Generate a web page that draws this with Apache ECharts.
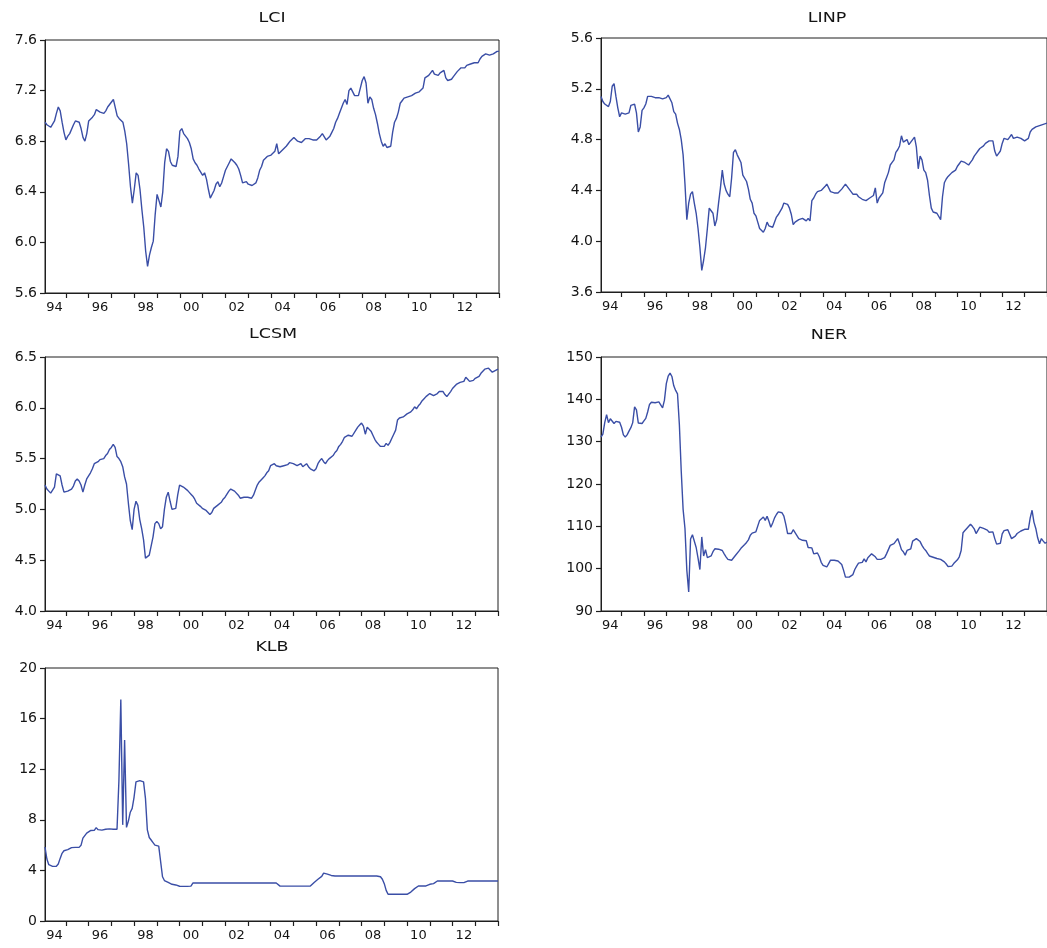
<!DOCTYPE html>
<html>
<head>
<meta charset="utf-8">
<title>LCI, LINP, LCSM, NER, KLB</title>
<script src="https://cdn.jsdelivr.net/npm/echarts@6/dist/echarts.min.js"></script>
<style>
  html, body { margin: 0; padding: 0; background: #ffffff; }
  #chart { width: 1047px; height: 948px; }
</style>
</head>
<body>
<div id="chart"></div>
<script>
// Monthly observations, January 1994 to December 2013 (one row per year).
const START_YEAR = 1994;
const END_YEAR = 2014;
const yearLabels = ['94', '96', '98', '00', '02', '04', '06', '08', '10', '12'];

const LCI = [
  6.95, 6.93, 6.92, 6.91, 6.92, 6.96, 7.02, 7.07, 7.04, 6.95, 6.87, 6.81,
  6.84, 6.86, 6.85, 6.93, 6.96, 6.97, 6.95, 6.90, 6.83, 6.80, 6.86, 6.96,
  6.97, 6.99, 7.01, 7.05, 7.04, 7.03, 7.02, 7.02, 7.04, 7.07, 7.09, 7.09,
  7.13, 7.12, 7.00, 6.98, 6.97, 6.95, 6.88, 6.78, 6.62, 6.44, 6.31, 6.42,
  6.55, 6.53, 6.42, 6.26, 6.12, 5.93, 5.81, 5.90, 5.96, 6.01, 6.22, 6.38,
  6.33, 6.28, 6.40, 6.63, 6.74, 6.72, 6.64, 6.61, 6.60, 6.60, 6.68, 6.88,
  6.90, 6.86, 6.84, 6.82, 6.79, 6.74, 6.66, 6.63, 6.61, 6.58, 6.57, 6.53,
  6.55, 6.50, 6.42, 6.35, 6.34, 6.41, 6.46, 6.48, 6.44, 6.47, 6.52, 6.57,
  6.60, 6.63, 6.66, 6.65, 6.63, 6.61, 6.58, 6.53, 6.47, 6.46, 6.48, 6.46,
  6.45, 6.45, 6.44, 6.47, 6.51, 6.57, 6.60, 6.65, 6.66, 6.68, 6.68, 6.69,
  6.70, 6.72, 6.78, 6.70, 6.71, 6.73, 6.74, 6.76, 6.78, 6.80, 6.81, 6.83,
  6.82, 6.80, 6.79, 6.79, 6.80, 6.82, 6.83, 6.82, 6.82, 6.81, 6.80, 6.81,
  6.82, 6.84, 6.86, 6.85, 6.81, 6.82, 6.84, 6.87, 6.90, 6.95, 6.98, 7.02,
  7.06, 7.10, 7.13, 7.09, 7.20, 7.22, 7.23, 7.16, 7.16, 7.16, 7.22, 7.28,
  7.31, 7.26, 7.10, 7.15, 7.13, 7.06, 7.01, 6.94, 6.86, 6.80, 6.76, 6.78,
  6.75, 6.74, 6.76, 6.87, 6.95, 6.98, 7.03, 7.10, 7.12, 7.14, 7.15, 7.15,
  7.15, 7.16, 7.17, 7.18, 7.18, 7.19, 7.20, 7.22, 7.30, 7.31, 7.32, 7.33,
  7.36, 7.33, 7.32, 7.32, 7.34, 7.35, 7.36, 7.30, 7.28, 7.28, 7.29, 7.31,
  7.33, 7.35, 7.36, 7.38, 7.37, 7.38, 7.40, 7.40, 7.41, 7.41, 7.42, 7.42,
  7.42, 7.45, 7.47, 7.48, 7.49, 7.49, 7.48, 7.48, 7.49, 7.50, 7.51, 7.51
];

const LINP = [
  5.14, 5.10, 5.08, 5.07, 5.06, 5.10, 5.22, 5.24, 5.14, 5.05, 4.98, 5.01,
  5.00, 5.00, 5.00, 5.01, 5.07, 5.08, 5.08, 5.01, 4.86, 4.90, 5.03, 5.05,
  5.08, 5.14, 5.15, 5.14, 5.14, 5.13, 5.14, 5.13, 5.13, 5.12, 5.12, 5.13,
  5.15, 5.16, 5.09, 5.02, 5.00, 4.93, 4.88, 4.80, 4.68, 4.45, 4.17, 4.30,
  4.37, 4.39, 4.30, 4.22, 4.10, 3.95, 3.77, 3.85, 3.95, 4.10, 4.26, 4.24,
  4.22, 4.12, 4.17, 4.30, 4.42, 4.56, 4.45, 4.40, 4.37, 4.35, 4.50, 4.70,
  4.72, 4.68, 4.65, 4.62, 4.52, 4.51, 4.47, 4.41, 4.33, 4.30, 4.22, 4.20,
  4.15, 4.10, 4.09, 4.07, 4.10, 4.15, 4.12, 4.12, 4.11, 4.10, 4.19, 4.21,
  4.21, 4.26, 4.30, 4.30, 4.29, 4.26, 4.21, 4.13, 4.15, 4.16, 4.17, 4.17,
  4.18, 4.17, 4.16, 4.18, 4.16, 4.32, 4.34, 4.37, 4.39, 4.40, 4.40, 4.41,
  4.43, 4.45, 4.46, 4.39, 4.38, 4.38, 4.37, 4.38, 4.39, 4.41, 4.42, 4.45,
  4.44, 4.41, 4.39, 4.37, 4.37, 4.37, 4.35, 4.34, 4.33, 4.33, 4.32, 4.33,
  4.34, 4.35, 4.36, 4.42, 4.30, 4.34, 4.35, 4.38, 4.46, 4.50, 4.54, 4.60,
  4.62, 4.64, 4.70, 4.72, 4.75, 4.83, 4.78, 4.77, 4.80, 4.76, 4.78, 4.80,
  4.82, 4.74, 4.57, 4.67, 4.64, 4.56, 4.54, 4.48, 4.36, 4.26, 4.23, 4.22,
  4.22, 4.21, 4.17, 4.35, 4.46, 4.49, 4.51, 4.51, 4.54, 4.55, 4.56, 4.59,
  4.61, 4.63, 4.64, 4.62, 4.61, 4.60, 4.62, 4.64, 4.67, 4.69, 4.71, 4.73,
  4.74, 4.75, 4.77, 4.78, 4.79, 4.79, 4.79, 4.71, 4.67, 4.69, 4.71, 4.77,
  4.81, 4.80, 4.80, 4.82, 4.84, 4.81, 4.80, 4.82, 4.83, 4.81, 4.80, 4.79,
  4.79, 4.81, 4.86, 4.88, 4.89, 4.90, 4.91, 4.91, 4.92, 4.92, 4.93, 4.93
];

const LCSM = [
  5.24, 5.20, 5.18, 5.16, 5.15, 5.22, 5.35, 5.35, 5.33, 5.24, 5.17, 5.18,
  5.18, 5.19, 5.20, 5.23, 5.28, 5.30, 5.28, 5.24, 5.17, 5.24, 5.30, 5.33,
  5.36, 5.40, 5.45, 5.46, 5.47, 5.49, 5.49, 5.50, 5.53, 5.55, 5.59, 5.61,
  5.64, 5.61, 5.52, 5.50, 5.47, 5.42, 5.32, 5.25, 5.06, 4.89, 4.80, 5.00,
  5.08, 5.04, 4.90, 4.81, 4.70, 4.52, 4.53, 4.55, 4.56, 4.73, 4.86, 4.88,
  4.86, 4.81, 4.83, 5.00, 5.12, 5.17, 5.08, 5.00, 5.00, 5.01, 5.14, 5.24,
  5.23, 5.22, 5.21, 5.19, 5.17, 5.15, 5.13, 5.10, 5.06, 5.05, 5.03, 5.01,
  5.00, 4.99, 4.97, 4.95, 4.97, 5.01, 5.02, 5.04, 5.05, 5.07, 5.10, 5.12,
  5.15, 5.18, 5.20, 5.19, 5.18, 5.17, 5.14, 5.11, 5.11, 5.12, 5.12, 5.12,
  5.11, 5.11, 5.14, 5.19, 5.24, 5.27, 5.29, 5.31, 5.33, 5.36, 5.38, 5.43,
  5.44, 5.45, 5.43, 5.42, 5.42, 5.42, 5.43, 5.43, 5.44, 5.46, 5.47, 5.45,
  5.44, 5.43, 5.44, 5.45, 5.42, 5.43, 5.45, 5.42, 5.40, 5.39, 5.38, 5.40,
  5.45, 5.48, 5.50, 5.47, 5.45, 5.48, 5.50, 5.51, 5.53, 5.56, 5.58, 5.62,
  5.64, 5.67, 5.71, 5.72, 5.73, 5.74, 5.72, 5.71, 5.78, 5.81, 5.83, 5.85,
  5.82, 5.74, 5.81, 5.80, 5.77, 5.73, 5.69, 5.66, 5.64, 5.62, 5.61, 5.62,
  5.65, 5.63, 5.66, 5.70, 5.74, 5.78, 5.88, 5.90, 5.91, 5.91, 5.92, 5.94,
  5.95, 5.96, 5.98, 6.01, 5.99, 6.02, 6.04, 6.07, 6.09, 6.11, 6.12, 6.14,
  6.13, 6.12, 6.13, 6.14, 6.16, 6.16, 6.16, 6.13, 6.11, 6.10, 6.16, 6.19,
  6.21, 6.23, 6.24, 6.25, 6.26, 6.26, 6.30, 6.28, 6.26, 6.25, 6.27, 6.29,
  6.29, 6.31, 6.34, 6.36, 6.38, 6.39, 6.39, 6.38, 6.35, 6.36, 6.37, 6.38
];

const NER = [
  131.1, 131.8, 134.5, 136.4, 134.5, 135.4, 135.1, 134.3, 134.8, 135.0, 134.6, 133.4,
  131.6, 131.1, 131.6, 132.5, 133.3, 134.5, 138.2, 137.5, 134.4, 134.1, 134.3, 134.9,
  135.5, 137.0, 138.8, 139.3, 139.4, 139.2, 139.0, 139.4, 139.0, 138.0, 139.8, 143.7,
  145.5, 146.2, 145.4, 143.2, 142.1, 141.3, 134.0, 123.0, 114.0, 109.5, 99.6, 94.5,
  107.0, 108.0, 107.6, 105.0, 102.5, 99.8, 107.5, 103.0, 104.5, 102.6, 102.3, 103.0,
  104.0, 104.7, 104.7, 104.6, 104.5, 104.3, 103.5, 102.8, 102.2, 102.0, 102.0, 102.0,
  103.1, 103.3, 104.2, 104.8, 105.2, 105.7, 106.2, 106.8, 107.9, 108.4, 108.5, 108.7,
  109.1, 111.4, 111.6, 112.2, 111.4, 112.4, 111.2, 109.8, 110.8, 112.0, 112.8, 113.4,
  113.6, 113.2, 112.4, 110.5, 108.3, 107.9, 108.3, 109.2, 109.0, 107.8, 107.1, 106.7,
  106.7, 106.5, 106.6, 105.0, 104.8, 104.9, 103.5, 103.8, 103.7, 102.8, 101.5, 100.8,
  100.5, 100.4, 101.2, 102.0, 102.1, 102.0, 101.8, 101.8, 102.0, 101.0, 99.6, 98.0,
  97.9, 98.0, 98.2, 98.6, 99.8, 100.6, 101.3, 101.2, 101.5, 102.3, 101.6, 102.6,
  103.0, 103.5, 103.2, 102.8, 102.2, 102.0, 102.2, 102.4, 102.6, 103.5, 104.5, 105.5,
  105.6, 105.9, 106.3, 107.1, 105.9, 104.5, 104.0, 103.2, 104.3, 104.5, 104.7, 106.5,
  106.9, 107.1, 107.0, 106.4, 105.5, 104.8, 104.3, 103.6, 103.0, 102.8, 102.7, 102.6,
  102.4, 102.3, 102.2, 101.9, 101.6, 101.1, 100.5, 100.3, 100.6, 101.2, 101.6, 102.1,
  102.8, 104.3, 108.5, 109.0, 109.5, 109.9, 110.5, 110.0, 109.4, 108.3, 108.4, 109.8,
  109.8, 109.5, 109.3, 109.1, 108.6, 108.3, 108.7, 107.1, 105.8, 105.7, 106.0, 108.2,
  109.0, 109.4, 109.2, 108.8, 107.1, 107.4, 107.7, 108.3, 108.6, 108.9, 109.1, 109.3,
  109.7, 109.3, 112.0, 113.8, 111.0, 109.5, 107.3, 105.9, 107.1, 106.5, 106.0, 106.3
];

const KLB = [
  5.85, 4.90, 4.45, 4.35, 4.32, 4.32, 4.33, 4.50, 4.95, 5.35, 5.55, 5.60,
  5.64, 5.75, 5.80, 5.80, 5.82, 5.85, 5.82, 5.98, 6.55, 6.60, 6.95, 7.10,
  7.15, 7.05, 7.17, 7.38, 7.22, 7.18, 7.18, 7.22, 7.25, 7.30, 7.28, 7.25,
  7.25, 7.22, 7.25, 11.1, 17.5, 7.6, 14.3, 7.4, 7.9, 8.6, 8.9, 9.8,
  11.0, 11.1, 11.1, 11.1, 11.0, 9.7, 7.2, 6.6, 6.4, 6.2, 6.0, 5.95,
  5.92, 5.90, 3.50, 3.20, 3.12, 3.05, 2.98, 2.90, 2.76, 2.85, 2.82, 2.75,
  2.74, 2.74, 2.74, 2.74, 2.74, 2.76, 3.00, 3.00, 3.00, 3.00, 3.00, 3.00,
  3.00, 3.00, 3.00, 3.00, 3.00, 3.00, 3.00, 3.00, 3.00, 3.00, 3.00, 3.00,
  3.00, 3.00, 3.00, 3.00, 3.00, 3.00, 3.00, 3.00, 3.00, 3.00, 3.00, 3.00,
  3.00, 3.00, 3.00, 3.00, 3.00, 3.00, 3.00, 3.00, 3.00, 3.00, 3.00, 3.00,
  3.00, 3.00, 3.00, 3.00, 2.76, 2.76, 2.76, 2.76, 2.76, 2.76, 2.76, 2.76,
  2.76, 2.76, 2.76, 2.76, 2.76, 2.76, 2.76, 2.76, 2.76, 2.90, 3.05, 3.20,
  3.30, 3.40, 3.53, 3.79, 3.75, 3.70, 3.66, 3.60, 3.56, 3.56, 3.56, 3.56,
  3.56, 3.56, 3.56, 3.56, 3.56, 3.56, 3.56, 3.56, 3.56, 3.56, 3.56, 3.56,
  3.56, 3.56, 3.56, 3.56, 3.56, 3.56, 3.56, 3.56, 3.56, 3.50, 3.30, 2.95,
  2.42, 2.11, 2.11, 2.11, 2.11, 2.11, 2.11, 2.11, 2.11, 2.11, 2.11, 2.11,
  2.15, 2.29, 2.42, 2.56, 2.68, 2.77, 2.77, 2.77, 2.77, 2.77, 2.85, 2.90,
  2.92, 2.95, 2.98, 3.16, 3.16, 3.16, 3.16, 3.16, 3.16, 3.16, 3.16, 3.16,
  3.16, 3.05, 3.03, 3.03, 3.03, 3.03, 3.16, 3.16, 3.16, 3.16, 3.16, 3.16,
  3.16, 3.16, 3.16, 3.16, 3.16, 3.16, 3.16, 3.16, 3.16, 3.16, 3.16, 3.16
];

// Panel layout: one small chart per series.
const panels = [
  { name: 'LCI',  values: LCI,  min: 5.6, max: 7.6, step: 0.4, digits: 1, left: 45,  top: 40,  width: 454, height: 253, titleX: 272, titleY: 18 },
  { name: 'LINP', values: LINP, min: 3.6, max: 5.6, step: 0.4, digits: 1, left: 601, top: 38,  width: 454, height: 254, titleX: 827, titleY: 18 },
  { name: 'LCSM', values: LCSM, min: 4.0, max: 6.5, step: 0.5, digits: 1, left: 45,  top: 357, width: 453, height: 254, titleX: 273, titleY: 334 },
  { name: 'NER',  values: NER,  min: 90,  max: 150, step: 10,  digits: 0, left: 601, top: 357, width: 454, height: 254, titleX: 829, titleY: 335 },
  { name: 'KLB',  values: KLB,  min: 0,   max: 20,  step: 4,   digits: 0, left: 45,  top: 668, width: 453, height: 253, titleX: 272, titleY: 647 }
];

const LINE_COLOR = '#3a4ea6';
const TEXT_COLOR = '#141414';
const AXIS_COLOR = '#1e1e1e';
const LABEL_FONT = 'DejaVu Sans';

// Year ticks at every January; two-digit labels sit in the middle of even years.
const tickYears = [];
for (let y = START_YEAR + 1; y <= END_YEAR; y++) tickYears.push(y);
const labelPositions = yearLabels.map((_, k) => START_YEAR + 2 * k + 0.5);
const labelByYear = {};
yearLabels.forEach((lab, k) => { labelByYear[START_YEAR + 2 * k] = lab; });

// Each observation is placed at the end of its month.
function toPoints(values) {
  return values.map((v, i) => [START_YEAR + (i + 1) / 12, v]);
}

const grid = [], xAxis = [], yAxis = [], series = [], graphic = [];
panels.forEach((p, k) => {
  grid.push({
    left: p.left, top: p.top, width: p.width, height: p.height,
    show: true, borderColor: AXIS_COLOR, borderWidth: 1, backgroundColor: 'transparent'
  });
  xAxis.push({
    gridIndex: k, type: 'value',
    min: START_YEAR + 1 / 12, max: END_YEAR,
    axisLine: { show: true, onZero: false, lineStyle: { color: AXIS_COLOR, width: 1 } },
    axisTick: { show: true, inside: false, length: 5, customValues: tickYears, lineStyle: { color: AXIS_COLOR, width: 1.2 } },
    axisLabel: {
      show: true, customValues: labelPositions, margin: 8,
      color: TEXT_COLOR, fontFamily: LABEL_FONT, fontSize: 13,
      formatter: v => labelByYear[Math.floor(v + 1e-6)] || ''
    },
    splitLine: { show: false }
  });
  yAxis.push({
    gridIndex: k, type: 'value',
    min: p.min, max: p.max, interval: p.step,
    axisLine: { show: true, onZero: false, lineStyle: { color: AXIS_COLOR, width: 1 } },
    axisTick: { show: true, inside: false, length: 5, lineStyle: { color: AXIS_COLOR, width: 1.2 } },
    axisLabel: {
      show: true, margin: 8, color: TEXT_COLOR, fontFamily: LABEL_FONT, fontSize: 14,
      formatter: v => v.toFixed(p.digits)
    },
    splitLine: { show: false }
  });
  series.push({
    name: p.name, type: 'line', xAxisIndex: k, yAxisIndex: k,
    data: toPoints(p.values),
    showSymbol: false, symbol: 'none', smooth: false,
    lineStyle: { color: LINE_COLOR, width: 1.4 },
    itemStyle: { color: LINE_COLOR },
    clip: true
  });
  graphic.push({
    type: 'text', x: p.titleX, y: p.titleY, scaleX: 1.25,
    style: {
      text: p.name, fill: TEXT_COLOR,
      font: '14px "DejaVu Sans"', textAlign: 'center', textVerticalAlign: 'middle'
    }
  });
});

const chart = echarts.init(document.getElementById('chart'), null, { renderer: 'canvas' });
chart.setOption({
  animation: false,
  backgroundColor: '#ffffff',
  grid, xAxis, yAxis, series, graphic
});
</script>
</body>
</html>
